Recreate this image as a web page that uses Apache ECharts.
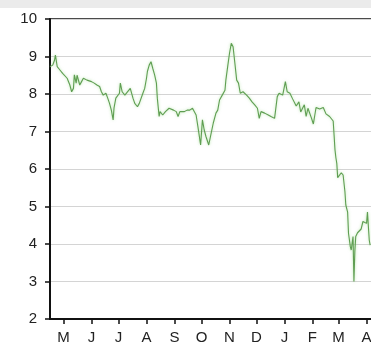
<!DOCTYPE html>
<html>
<head>
<meta charset="utf-8">
<script src="https://cdn.jsdelivr.net/npm/echarts@6/dist/echarts.min.js"></script>
<style>html,body{margin:0;padding:0;background:#fff}#c{width:371px;height:345px}</style>
</head>
<body>
<div id="c"></div>
<script>
var dates = ['2019-04-16','2019-04-19','2019-04-21','2019-04-22','2019-04-24','2019-04-27','2019-04-30',
'2019-05-02','2019-05-05','2019-05-08','2019-05-10','2019-05-12','2019-05-13','2019-05-15','2019-05-16','2019-05-19','2019-05-21','2019-05-23','2019-05-25','2019-05-27','2019-05-29',
'2019-06-01','2019-06-04','2019-06-07','2019-06-10','2019-06-12','2019-06-14','2019-06-17','2019-06-19','2019-06-21','2019-06-23','2019-06-25','2019-06-26','2019-06-28','2019-06-30',
'2019-07-02','2019-07-03','2019-07-05','2019-07-08','2019-07-10','2019-07-14','2019-07-17','2019-07-19','2019-07-22','2019-07-24','2019-07-26','2019-07-28','2019-07-30',
'2019-08-01','2019-08-02','2019-08-04','2019-08-06','2019-08-08','2019-08-10','2019-08-12','2019-08-13','2019-08-15','2019-08-16','2019-08-19','2019-08-22','2019-08-24','2019-08-26','2019-08-28','2019-08-31',
'2019-09-03','2019-09-05','2019-09-07','2019-09-09','2019-09-12','2019-09-15','2019-09-18','2019-09-21','2019-09-23','2019-09-25','2019-09-27','2019-09-30',
'2019-10-02','2019-10-04','2019-10-06','2019-10-09','2019-10-12','2019-10-14','2019-10-17','2019-10-19','2019-10-21','2019-10-24','2019-10-27','2019-10-28','2019-10-30',
'2019-11-01','2019-11-03','2019-11-05','2019-11-07','2019-11-09','2019-11-11','2019-11-13','2019-11-16','2019-11-20','2019-11-23','2019-11-26','2019-11-29',
'2019-12-02','2019-12-04','2019-12-06','2019-12-10','2019-12-14','2019-12-17','2019-12-21','2019-12-24','2019-12-26','2019-12-30',
'2020-01-02','2020-01-04','2020-01-07','2020-01-10','2020-01-14','2020-01-17','2020-01-19','2020-01-21','2020-01-23','2020-01-25','2020-01-27','2020-01-31',
'2020-02-02','2020-02-05','2020-02-09','2020-02-13','2020-02-16','2020-02-20','2020-02-24','2020-02-25','2020-02-26','2020-02-27','2020-02-28','2020-02-29',
'2020-03-02','2020-03-04','2020-03-06','2020-03-08','2020-03-09','2020-03-11','2020-03-12','2020-03-14','2020-03-15','2020-03-17','2020-03-18','2020-03-19','2020-03-20','2020-03-22','2020-03-24','2020-03-26','2020-03-28','2020-03-30',
'2020-04-01','2020-04-02','2020-04-04','2020-04-05'];
var values = [8.73,8.77,8.90,9.04,8.73,8.64,8.55,
8.51,8.42,8.24,8.06,8.15,8.51,8.29,8.50,8.24,8.33,8.42,8.46,8.37,8.42,
8.33,8.29,8.24,8.20,8.06,7.97,8.02,7.89,7.75,7.57,7.31,7.63,7.89,7.84,
8.02,8.29,8.06,7.97,8.02,8.15,7.89,7.75,7.66,7.75,7.79,8.02,8.15,
8.42,8.60,8.77,8.86,8.68,8.51,8.29,7.89,7.40,7.53,7.44,7.53,7.49,7.62,7.57,7.57,
7.53,7.40,7.53,7.57,7.53,7.57,7.57,7.62,7.57,7.44,7.13,6.64,
7.31,7.04,6.86,6.64,6.99,7.22,7.49,7.57,7.84,7.97,8.10,8.37,8.73,
9.08,9.35,9.26,8.82,8.37,8.29,8.02,8.06,7.97,7.89,7.79,7.71,
7.62,7.35,7.53,7.49,7.44,7.40,7.35,7.93,8.02,7.97,
8.33,8.06,8.02,7.87,7.68,7.79,7.52,7.62,7.71,7.40,7.62,7.35,
7.20,7.64,7.60,7.64,7.47,7.40,7.28,6.90,6.51,6.30,6.15,5.77,
5.80,5.90,5.84,5.40,5.04,4.85,4.28,3.93,3.84,4.20,3.00,3.80,4.20,4.30,4.25,4.40,4.60,4.64,
4.55,4.85,4.10,3.97];
var yTicks = [2,3,4,5,6,7,8,9,10];
var monthLetters = ['J','F','M','A','M','J','J','A','S','O','N','D'];

var DAY = 86400000;
var xMin = new Date(2019, 3, 16).getTime();
var xMax = xMin + 378.1 * DAY;
var seriesData = dates.map(function (d, i) {
  var p = d.split('-');
  return [new Date(+p[0], +p[1] - 1, +p[2]).getTime(), values[i]];
});

var chart = echarts.init(document.getElementById('c'), null, {renderer: 'canvas'});
chart.setOption({
  animation: false,
  backgroundColor: '#fff',
  graphic: [{type: 'rect', left: 0, top: 0, shape: {width: 371, height: 8}, style: {fill: '#ebebeb'}, silent: true}],
  grid: {left: 50, top: 19, width: 341, height: 300, outerBoundsMode: 'none', containLabel: false,
    show: true, borderColor: '#111', borderWidth: 1.5, backgroundColor: 'transparent'},
  xAxis: {
    type: 'time', min: xMin, max: xMax,
    splitNumber: 13, minInterval: 28 * DAY, maxInterval: 31 * DAY,
    axisLine: {lineStyle: {color: '#111', width: 2}},
    axisTick: {show: true, length: 5, lineStyle: {color: '#111', width: 1.5}},
    axisLabel: {
      margin: 11, color: '#222', fontSize: 15, fontFamily: 'Liberation Sans, Arial, sans-serif',
      formatter: function (v) { return monthLetters[new Date(v).getMonth()]; }
    },
    splitLine: {show: false}
  },
  yAxis: {
    type: 'value', min: yTicks[0], max: yTicks[yTicks.length - 1], interval: 1,
    axisLine: {show: true, lineStyle: {color: '#111', width: 2}},
    axisTick: {show: true, length: 5, lineStyle: {color: '#111', width: 1.5}},
    axisLabel: {margin: 13, color: '#222', fontSize: 15, fontFamily: 'Liberation Sans, Arial, sans-serif'},
    splitLine: {show: true, lineStyle: {color: '#d4d4d4', width: 1}}
  },
  series: [{
    type: 'line', data: seriesData, showSymbol: false, symbol: 'none',
    lineStyle: {color: '#5f9e52', width: 1.1, shadowColor: 'rgba(130,210,110,0.6)', shadowBlur: 3}
  }]
});
</script>
</body>
</html>
